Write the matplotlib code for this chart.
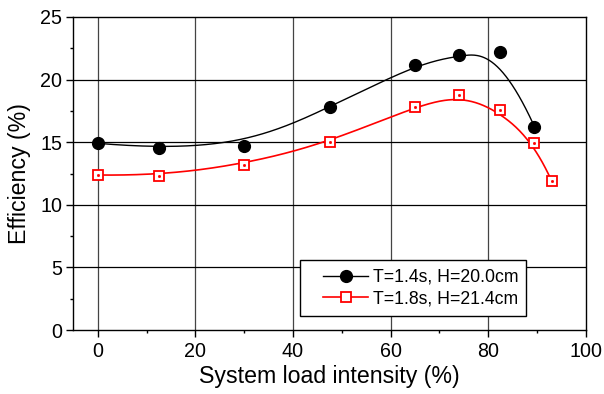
import numpy as np
import matplotlib
matplotlib.use("Agg")
import matplotlib.pyplot as plt
from matplotlib.ticker import MultipleLocator
from matplotlib.patches import Rectangle

plt.rcParams['font.family'] = ['Liberation Sans', 'DejaVu Sans']

# Data
x_black = [0, 12.5, 30, 47.5, 65, 74, 82.5, 89.5]
y_black = [14.91, 14.51, 14.70, 17.79, 21.17, 21.96, 22.23, 16.24]
x_red = [0, 12.5, 30, 47.5, 65, 74, 82.5, 89.5, 93]
y_red = [12.38, 12.32, 13.18, 15.02, 17.84, 18.75, 17.55, 14.94, 11.92]
label_black = "T=1.4s, H=20.0cm"
label_red = "T=1.8s, H=21.4cm"


def bspline(xs, ys, n=400, k=3):
    """Clamped uniform B-spline using the data points as control points."""
    P = np.column_stack([xs, ys]).astype(float)
    m = len(P)
    inner = np.linspace(0, 1, m - k + 1)
    knots = np.concatenate([np.zeros(k), inner, np.ones(k)])
    ts = np.linspace(0, 1, n)
    out = []
    for t in ts:
        if t >= 1:
            out.append(P[-1])
            continue
        i = np.searchsorted(knots, t, side='right') - 1
        d = [P[j + i - k].copy() for j in range(k + 1)]
        for r in range(1, k + 1):
            for j in range(k, r - 1, -1):
                a = (t - knots[j + i - k]) / (knots[j + 1 + i - r] - knots[j + i - k])
                d[j] = (1 - a) * d[j - 1] + a * d[j]
        out.append(d[k])
    out = np.array(out)
    return out[:, 0], out[:, 1]


W, H = 604, 394
fig = plt.figure(figsize=(W / 100, H / 100), dpi=100)
ax = fig.add_axes([73.3 / W, 1 - 330 / H, (585.7 - 73.3) / W, (330 - 17) / H])

for xv in [0, 20, 40, 60, 80]:
    ax.axvline(xv, color='#444444', lw=0.9, zorder=1)
for yv in [5, 10, 15, 20]:
    ax.axhline(yv, color='black', lw=0.9, zorder=1)

bx, by = bspline(x_black, y_black)
rx, ry = bspline(x_red, y_red)
ax.plot(bx, by, color='black', lw=1.0, zorder=3)
ax.plot(rx, ry, color='red', lw=1.2, zorder=3)
ax.plot(x_black, y_black, 'o', color='black', ms=8.5, zorder=4)
ax.plot(x_red, y_red, 's', mfc='white', mec='red', mew=1.3, ms=6.5, zorder=4)
ax.plot(x_red, y_red, 's', color='red', ms=1.0, zorder=5)

# legend proxies
hb, = ax.plot([], [], '-o', color='black', lw=1.0, ms=8.5)
hr, = ax.plot([], [], '-s', color='red', lw=1.2, mfc='white', mec='red', mew=1.3, ms=6.5)

ax.set_xlim(-5, 100)
ax.set_ylim(0, 25)
ax.xaxis.set_major_locator(MultipleLocator(20))
ax.xaxis.set_minor_locator(MultipleLocator(10))
ax.yaxis.set_major_locator(MultipleLocator(5))
ax.yaxis.set_minor_locator(MultipleLocator(2.5))
ax.tick_params(which='major', direction='out', length=4.7, width=1, labelsize=14.2)
ax.tick_params(axis='x', which='major', pad=4)
ax.tick_params(axis='y', which='major', pad=3.4)
ax.tick_params(which='minor', direction='out', length=2.4, width=1)
for s in ax.spines.values():
    s.set_linewidth(1.0)

ax.set_xlabel("System load intensity (%)", fontsize=16.7, va='top')
ax.xaxis.set_label_coords(0.5, (330 - 365) / 313)
ax.set_ylabel("Efficiency (%)", fontsize=16.7)
ax.yaxis.set_label_coords((31 - 73.3) / 512.4, 0.5)

# legend frame drawn separately for Origin-like asymmetric padding
frame = Rectangle((300 / W, 1 - 316 / H), 226 / W, 56 / H,
                  transform=fig.transFigure, facecolor='white',
                  edgecolor='black', lw=1.0, zorder=5, clip_on=False)
ax.add_patch(frame)
leg = ax.legend([hb, hr], [label_black, label_red], loc='upper left',
                bbox_to_anchor=(323 / W, 1 - 269 / H),
                bbox_transform=fig.transFigure, borderaxespad=0, borderpad=0,
                fontsize=12.7, handlelength=2.56, handletextpad=0.25,
                frameon=False, labelspacing=0.23)
leg.set_zorder(6)

fig.savefig("out.png", dpi=100)
